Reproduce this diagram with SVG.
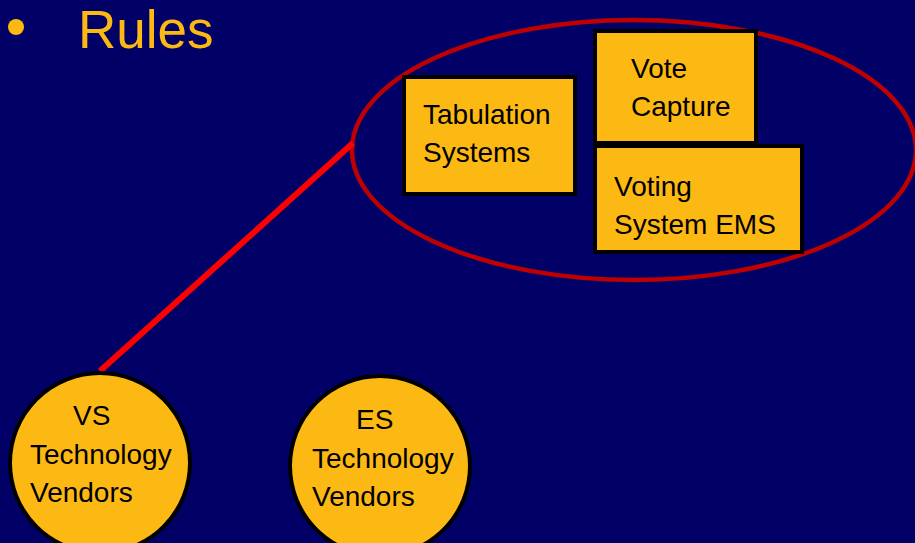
<svg xmlns="http://www.w3.org/2000/svg" width="915" height="543" viewBox="0 0 915 543">
<style>
.box{fill:#FDB913;stroke:#000;stroke-width:4}
.t{font-family:"Liberation Sans",Arial,sans-serif;font-size:28px;fill:#000}
.title{font-family:"Liberation Sans",Arial,sans-serif;font-size:53px;fill:#FDB913}
</style>
<rect x="0" y="0" width="915" height="543" fill="#000066"/>
<g id="title">
<circle cx="16" cy="27" r="8" fill="#FDB913"/>
<text class="title" x="78" y="48">Rules</text>
</g>
<g id="group-ellipse">
<ellipse cx="634" cy="150" rx="282" ry="130" fill="none" stroke="#C00000" stroke-width="4.5"/>
</g>
<g id="connectors">
<line x1="100" y1="371" x2="353" y2="143" stroke="#FF0000" stroke-width="6"/>
</g>
<g id="tabulation">
<rect class="box" x="404" y="77" width="171" height="117"/>
<text class="t" x="423" y="124">Tabulation</text>
<text class="t" x="423" y="162">Systems</text>
</g>
<g id="vote-capture">
<rect class="box" x="595" y="31" width="161" height="112"/>
<text class="t" x="631" y="78">Vote</text>
<text class="t" x="631" y="116">Capture</text>
</g>
<g id="voting-system-ems">
<rect class="box" x="595" y="146" width="207" height="106"/>
<text class="t" x="614" y="196">Voting</text>
<text class="t" x="614" y="234">System EMS</text>
</g>
<g id="vs-vendors">
<circle class="box" cx="100" cy="463" r="90"/>
<text class="t" x="73" y="425">VS</text>
<text class="t" x="30" y="464">Technology</text>
<text class="t" x="30" y="502">Vendors</text>
</g>
<g id="es-vendors">
<circle class="box" cx="380" cy="466" r="90"/>
<text class="t" x="356" y="429">ES</text>
<text class="t" x="312" y="468">Technology</text>
<text class="t" x="312" y="506">Vendors</text>
</g>
</svg>
